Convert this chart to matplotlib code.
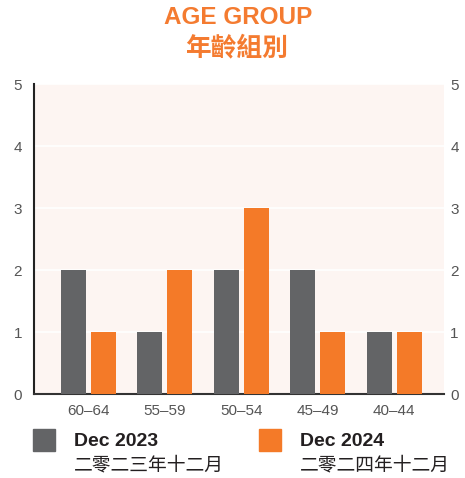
import matplotlib
matplotlib.use("Agg")
import matplotlib.pyplot as plt
import numpy as np
from matplotlib.patches import Rectangle

# Age groups and member counts per snapshot
age_groups = ["60–64", "55–59", "50–54", "45–49", "40–44"]
dec_2023 = [2, 1, 2, 2, 1]
dec_2024 = [1, 2, 3, 1, 1]
y_ticks = [0, 1, 2, 3, 4, 5]

GREY = "#636466"
ORANGE = "#F47A28"
TITLE_ORANGE = "#F47B30"
BG = "#FDF5F2"
TEXT = "#231F20"
TICK = "#555555"
FONTS = ["Liberation Sans", "Noto Sans CJK TC", "DejaVu Sans"]
CJK = ["Noto Sans CJK TC", "DejaVu Sans"]

plt.rcParams["font.family"] = FONTS

fig = plt.figure(figsize=(4.65, 4.78), dpi=100)
ax = fig.add_axes([34 / 465, 1 - 394 / 478, 410 / 465, 310 / 478])
ax.set_facecolor(BG)

x = np.arange(len(age_groups))
w = 0.33
off = 0.196
ax.bar(x - off, dec_2023, width=w, color=GREY, zorder=3)
ax.bar(x + off, dec_2024, width=w, color=ORANGE, zorder=3)

ax.set_xlim(-0.71, 4.65)
ax.set_ylim(0, 5)
ax.set_yticks(y_ticks)
ax.yaxis.grid(True, color="white", linewidth=1.2, zorder=1)
ax.set_xticks(x)
ax.set_xticklabels(age_groups, fontsize=11, color=TICK)
ax.tick_params(axis="x", length=0, pad=7)
ax.tick_params(axis="y", which="both", length=0, labelsize=11, labelcolor=TICK,
               labelright=True)
# left and right labels sit at different distances from the frame
for t in ax.yaxis.get_major_ticks():
    t.set_pad(8.5)
    t.label2.set_transform(t.label2.get_transform()
                           + matplotlib.transforms.ScaledTranslation(-4 / 72, 0, fig.dpi_scale_trans))

for side in ("top", "right"):
    ax.spines[side].set_visible(False)
ax.spines["left"].set_color("#222222")
ax.spines["left"].set_linewidth(1.5)
ax.spines["bottom"].set_color("#333333")
ax.spines["bottom"].set_linewidth(1.5)

# Title
fig.text(238 / 465, 1 - 17 / 478, "AGE GROUP", ha="center", va="center",
         fontsize=17.5, fontweight="bold", color=TITLE_ORANGE)
fig.text(237 / 465, 1 - 48 / 478, "年齡組別", ha="center", va="center",
         fontsize=18.5, fontweight="bold", color=TITLE_ORANGE, family=CJK)

# Legend
legend_items = [
    (33, GREY, "Dec 2023", "二零二三年十二月"),
    (259, ORANGE, "Dec 2024", "二零二四年十二月"),
]
for lx, col, en, zh in legend_items:
    fig.add_artist(Rectangle((lx / 465, 1 - 451 / 478), 22 / 465, 22 / 478,
                             transform=fig.transFigure, color=col))
    fig.text((lx + 41) / 465, 1 - 441 / 478, en, ha="left", va="center",
             fontsize=14, fontweight="bold", color=TEXT)
    fig.text((lx + 41) / 465, 1 - 465 / 478, zh, ha="left", va="center",
             fontsize=13.5, color=TEXT, family=CJK)

fig.savefig("out.png", dpi=100)
